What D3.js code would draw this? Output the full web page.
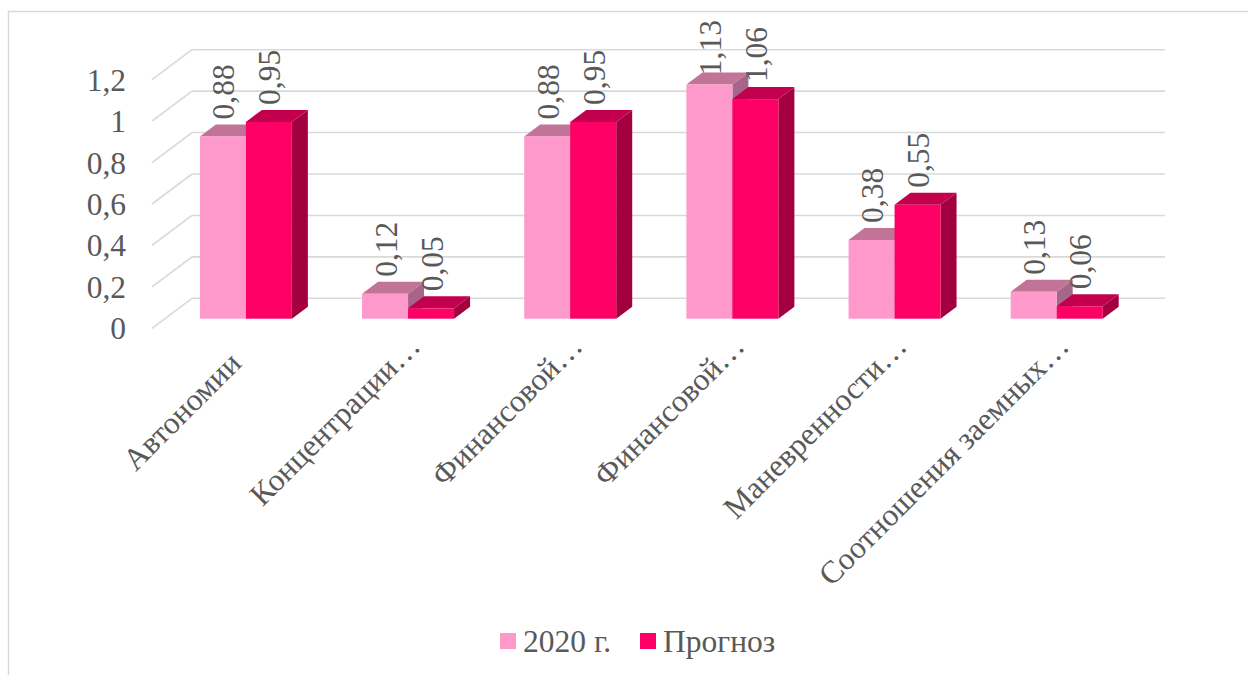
<!DOCTYPE html>
<html>
<head>
<meta charset="utf-8">
<script src="https://cdn.jsdelivr.net/npm/d3@7"></script>
<style>
  html, body { margin: 0; padding: 0; background: #ffffff; }
  svg { display: block; }
</style>
</head>
<body>
<svg id="chart" width="1248" height="675"></svg>
<script>
// ---- data ----
const categories = ["Автономии", "Концентрации…", "Финансовой…", "Финансовой…", "Маневренности…", "Соотношения заемных…"];
const seriesNames = ["2020 г.", "Прогноз"];
const values2020 = [0.88, 0.12, 0.88, 1.13, 0.38, 0.13];
const valuesForecast = [0.95, 0.05, 0.95, 1.06, 0.55, 0.06];
const yTicks = [0, 0.2, 0.4, 0.6, 0.8, 1, 1.2];

// ---- styles ----
const palette = [
  { front: "#FF99CC", top: "#C27398", side: "#A6658A" },
  { front: "#FF0066", top: "#C2004E", side: "#A3003F" }
];
const gridColor = "#D9D9D9";
const textColor = "#595959";
const fontFamily = "\"Liberation Serif\"";
const fontSize = 31.5;

const svg = d3.select("#chart");

function styleText(sel) {
  return sel.attr("fill", textColor)
    .style("font-family", fontFamily)
    .style("font-size", fontSize + "px");
}

// outer frame
svg.append("rect").attr("x", 8.5).attr("y", 11.5).attr("width", 1300).attr("height", 700)
  .attr("fill", "#fff").attr("stroke", gridColor).attr("stroke-width", 1.5);

// 3D geometry: back wall and depth offsets
const backLeft = 192, backRight = 1165;
const depthDX = -40, depthDY = 30;          // back wall -> front plane
const barFrontDX = -27.2, barFrontDY = 20.4; // back wall -> bar front plane
const barDepthDX = 16, barDepthDY = -12;     // bar front -> bar back

const yBack = d3.scaleLinear().domain([0, 1.2]).range([298.3, 49.7]);
const xCat = d3.scaleBand().domain(d3.range(categories.length)).range([backLeft, backRight]).padding(0);
const pairWidth = 92;
const xSub = d3.scaleBand().domain([0, 1])
  .range([(xCat.bandwidth() - pairWidth) / 2, (xCat.bandwidth() + pairWidth) / 2]).padding(0);

// gridlines: back wall + left side wall
const grid = svg.append("g");
yTicks.forEach(t => {
  const y = yBack(t);
  grid.append("line").attr("x1", backLeft).attr("x2", backRight).attr("y1", y).attr("y2", y)
    .attr("stroke", gridColor).attr("stroke-width", 1.6);
  grid.append("line").attr("x1", backLeft + depthDX).attr("y1", y + depthDY).attr("x2", backLeft).attr("y2", y)
    .attr("stroke", gridColor).attr("stroke-width", 1.6);
});

// y axis labels on the front plane
const yFront = d3.scaleLinear().domain(yBack.domain()).range(yBack.range().map(v => v + depthDY));
const fmt = v => String(v).replace(".", ",");
const yAxis = svg.append("g").attr("transform", `translate(126,0)`)
  .call(d3.axisLeft(yFront).tickValues(yTicks).tickFormat(fmt).tickSize(0).tickPadding(0));
yAxis.attr("font-family", null).attr("font-size", null);
yAxis.select(".domain").remove();
styleText(yAxis.selectAll("text")).attr("dy", null).attr("dominant-baseline", "central");

// bars
const seriesValues = [values2020, valuesForecast];
const barsG = svg.append("g");
const labelsG = svg.append("g");
categories.forEach((c, i) => {
  seriesValues.forEach((vals, s) => {
    const v = vals[i];
    const x0 = xCat(i) + xSub(s) + barFrontDX;
    const x1 = x0 + xSub.bandwidth();
    const yt = yBack(v) + barFrontDY;
    const yb = yBack(0) + barFrontDY;
    const col = palette[s];
    const dx = barDepthDX, dy = barDepthDY;
    barsG.append("path")
      .attr("d", `M${x1},${yt}L${x1 + dx},${yt + dy}L${x1 + dx},${yb + dy}L${x1},${yb}Z`)
      .attr("fill", col.side);
    barsG.append("path")
      .attr("d", `M${x0},${yt}L${x1},${yt}L${x1 + dx},${yt + dy}L${x0 + dx},${yt + dy}Z`)
      .attr("fill", col.top);
    barsG.append("rect").attr("x", x0).attr("y", yt).attr("width", x1 - x0).attr("height", yb - yt)
      .attr("fill", col.front);

    const lx = (x0 + x1) / 2 + 1;
    const t = styleText(labelsG.append("text"))
      .attr("text-anchor", "start")
      .attr("dominant-baseline", "central")
      .text(fmt(v));
    const len = t.node().getComputedTextLength();
    let ly = yt + dy - 5;
    if (ly - len < 20) ly = 20 + len;
    t.attr("transform", `translate(${lx},${ly}) rotate(-90)`);
  });
});

// category labels (rotated -45)
const catG = svg.append("g");
categories.forEach((c, i) => {
  const center = xCat(i) + xCat.bandwidth() / 2 + barFrontDX;
  const truncated = c.endsWith("…");
  const shift = truncated ? 0 : 24 / Math.SQRT2;
  const ax = center + 14 - shift;
  const ay = 348 + shift;
  styleText(catG.append("text"))
    .attr("text-anchor", "end")
    .attr("transform", `translate(${ax},${ay}) rotate(-45)`)
    .text(c);
});

// legend
const legend = svg.append("g");
const legendX = [500, 640];
seriesNames.forEach((n, s) => {
  legend.append("rect").attr("x", legendX[s]).attr("y", 633).attr("width", 16).attr("height", 16)
    .attr("fill", palette[s].front);
  styleText(legend.append("text")).attr("x", legendX[s] + 23).attr("y", 652).text(n);
});
</script>
</body>
</html>
